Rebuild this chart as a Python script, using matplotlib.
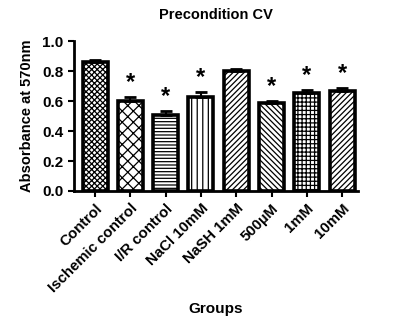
import numpy as np
import matplotlib.pyplot as plt

plt.rcParams['font.family'] = ['Liberation Sans', 'DejaVu Sans']
plt.rcParams['font.weight'] = 'bold'
plt.rcParams['hatch.linewidth'] = 0.9

groups = ['Control', 'Ischemic control', 'I/R control', 'NaCl 10mM',
          'NaSH 1mM', '500\u00b5M', '1mM', '10mM']
means = [0.86, 0.60, 0.51, 0.63, 0.80, 0.585, 0.655, 0.67]
sems = [0.015, 0.025, 0.025, 0.03, 0.012, 0.015, 0.02, 0.02]
significant = [False, True, True, True, False, True, True, True]
hatches = ['xxxxxx', 'xxx', '-----', '|||', '//////', '\\\\\\\\\\\\', '++++', '//////']

fig = plt.figure(figsize=(3.93, 3.21), dpi=100)
ax = fig.add_axes([0.188, 0.405, 0.723, 0.467])

x = np.arange(len(groups))
bars = ax.bar(x, means, width=0.71, color='white', edgecolor='black',
              linewidth=2.6, zorder=2)
for b, h in zip(bars, hatches):
    b.set_hatch(h)

ax.errorbar(x, means, yerr=[np.zeros(len(sems)), sems], fmt='none',
            ecolor='black', elinewidth=1.5, capsize=4, capthick=2, zorder=3)

for xi, m, s, sig in zip(x, means, sems, significant):
    if sig:
        ax.text(xi, m + s + 0.02, '*', ha='center', va='bottom',
                fontsize=17, fontweight='bold')

ax.set_xlim(-0.6, 7.45)
ax.set_ylim(0, 1.0)
ax.set_yticks([0.0, 0.2, 0.4, 0.6, 0.8, 1.0])
ax.set_yticklabels(['0.0', '0.2', '0.4', '0.6', '0.8', '1.0'], fontsize=11)
ax.set_xticks(x)
ax.set_xticklabels(groups, rotation=45, ha='right', rotation_mode='anchor',
                   fontsize=10.8)
ax.tick_params(axis='both', width=1.5, length=4)
for side in ['top', 'right']:
    ax.spines[side].set_visible(False)
for side in ['left', 'bottom']:
    ax.spines[side].set_linewidth(2)

ax.set_ylabel('Absorbance at 570nm', fontsize=10.5, fontweight='bold', labelpad=6)
ax.set_xlabel('Groups', fontsize=11, fontweight='bold', labelpad=5)
ax.set_title('Precondition CV', fontsize=10.5, fontweight='bold', pad=16)

fig.savefig('out.png', dpi=100)
